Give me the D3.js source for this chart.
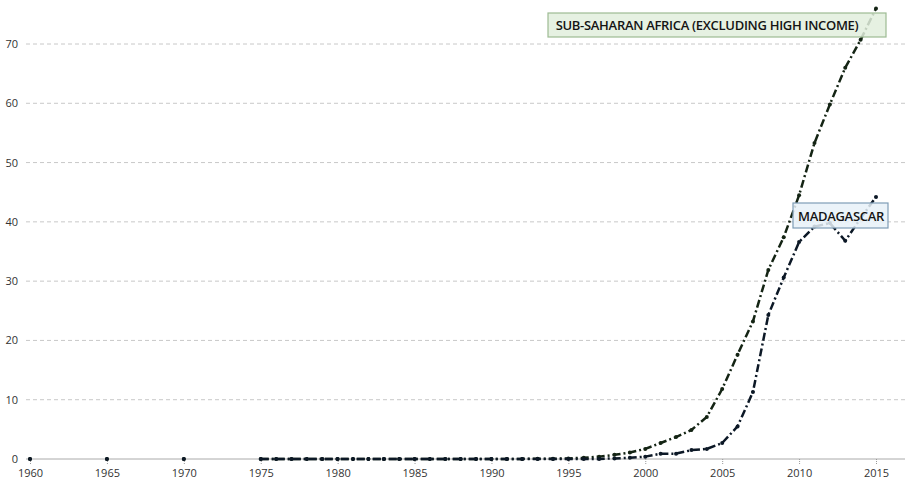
<!DOCTYPE html>
<html>
<head>
<meta charset="utf-8">
<script src="https://cdn.jsdelivr.net/npm/d3@7"></script>
<style>
  body { margin: 0; background: #fff; }
  svg { font-family: "Open Sans", sans-serif; }
</style>
</head>
<body>
<svg width="907" height="486"></svg>
<script>
// years with data; gaps between 1960/1965/1970/1975 are missing years
const years = [1960, 1965, 1970,
  1975, 1976, 1977, 1978, 1979, 1980, 1981, 1982, 1983, 1984, 1985, 1986, 1987, 1988, 1989,
  1990, 1991, 1992, 1993, 1994, 1995, 1996, 1997, 1998, 1999, 2000, 2001, 2002, 2003, 2004,
  2005, 2006, 2007, 2008, 2009, 2010, 2011, 2012, 2013, 2014, 2015];

const ssa = [0, 0, 0,
  0, 0, 0, 0, 0, 0, 0, 0, 0, 0, 0, 0, 0, 0, 0,
  0, 0.01, 0.02, 0.03, 0.05, 0.1, 0.2, 0.4, 0.7, 1.1, 1.7, 2.7, 3.7, 4.9, 7.1,
  11.8, 17.6, 23.2, 31.9, 37.4, 44.5, 53.3, 59.8, 66.0, 70.7, 76.0];

const madagascar = [0, 0, 0,
  0, 0, 0, 0, 0, 0, 0, 0, 0, 0, 0, 0, 0, 0, 0,
  0, 0, 0, 0, 0, 0, 0, 0.02, 0.1, 0.2, 0.4, 0.9, 0.9, 1.5, 1.7,
  2.7, 5.5, 11.3, 24.3, 30.6, 36.6, 39.2, 39.8, 36.8, 40.6, 44.2];

const xTicks = [1960, 1965, 1970, 1975, 1980, 1985, 1990, 1995, 2000, 2005, 2010, 2015];
const yTicks = [0, 10, 20, 30, 40, 50, 60, 70];

var svg = d3.select("svg"),
    width = +svg.attr("width"),
    height = +svg.attr("height");

var x = d3.scaleLinear().domain([1960, 2015]).range([30, 876]);
var y = d3.scaleLinear().domain([0, 70]).range([459, 44]);

// grid
svg.append("g")
  .selectAll("line")
  .data(yTicks.filter(d => d > 0))
  .enter().append("line")
  .attr("x1", 26).attr("x2", width)
  .attr("y1", d => y(d)).attr("y2", d => y(d))
  .attr("stroke", "#c8c8c8")
  .attr("stroke-dasharray", "4,3");

// y labels
svg.append("g")
  .selectAll("text")
  .data(yTicks)
  .enter().append("text")
  .attr("x", 18)
  .attr("y", d => y(d) + 4)
  .attr("text-anchor", "end")
  .attr("font-size", 11)
  .attr("fill", "#333")
  .text(d => d);

// x axis
var xAxis = svg.append("g")
  .attr("transform", "translate(0," + y(0) + ")")
  .call(d3.axisBottom(x).tickValues(xTicks).tickFormat(d3.format("d")).tickSize(5).tickPadding(5));
xAxis.select(".domain").attr("d", "M26,0H905").attr("stroke", "#aaa");
xAxis.selectAll(".tick line").attr("stroke", "#999").attr("stroke-dasharray", "1,1");
xAxis.selectAll(".tick text").attr("font-size", 11).attr("fill", "#333")
  .attr("font-family", "Open Sans, sans-serif");

var series = [
  {name: "ssa", values: ssa, color: "#142414"},
  {name: "madagascar", values: madagascar, color: "#0c1826"}
];

var line = d3.line()
  .defined((d, i) => years[i] >= 1975)
  .x((d, i) => x(years[i]))
  .y(d => y(d));

series.forEach(s => {
  svg.append("path")
    .datum(s.values)
    .attr("fill", "none")
    .attr("stroke", s.color)
    .attr("stroke-width", 2.5)
    .attr("stroke-dasharray", "8,3,2,3")
    .attr("d", line);

  svg.append("g")
    .selectAll("circle")
    .data(s.values)
    .enter().append("circle")
    .attr("cx", (d, i) => x(years[i]))
    .attr("cy", d => y(d))
    .attr("r", 2)
    .attr("fill", s.color);
});

// labels
function label(text, x0, y0, w, h, tx, fill, stroke) {
  svg.append("rect")
    .attr("x", x0).attr("y", y0).attr("width", w).attr("height", h)
    .attr("fill", fill).attr("fill-opacity", 0.85)
    .attr("stroke", stroke).attr("stroke-width", 1.2);
  svg.append("text")
    .attr("x", tx).attr("y", y0 + h / 2 + 5)
    .attr("text-anchor", "middle")
    .attr("font-size", 13)
    .attr("font-weight", 600)
    .attr("letter-spacing", "-0.3px")
    .attr("fill", "#141414")
    .text(text);
}
label("SUB-SAHARAN AFRICA (EXCLUDING HIGH INCOME)", 548, 13, 338, 24, 707, "#e2eedd", "#9dbb93");
label("MADAGASCAR", 793, 203, 95, 25, 841, "#e8f1f8", "#7f9db6");
</script>
</body>
</html>
